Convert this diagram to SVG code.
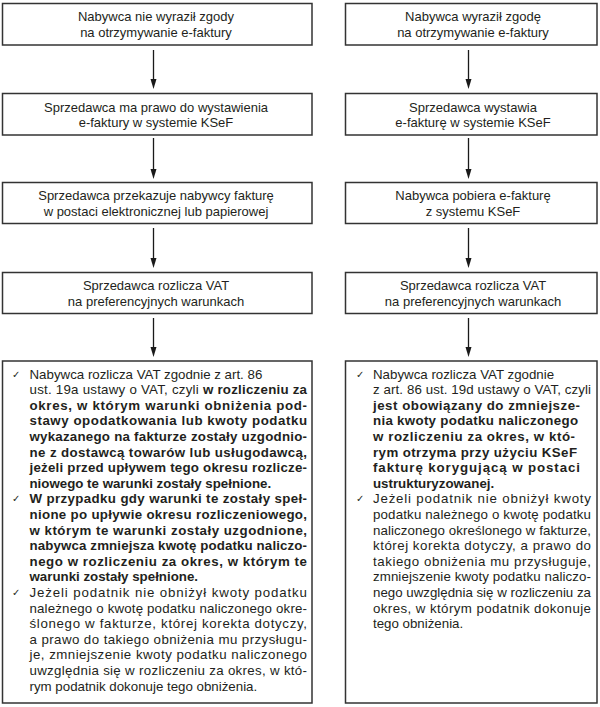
<svg xmlns="http://www.w3.org/2000/svg" width="600" height="707" viewBox="0 0 600 707">
<defs>
<style>
.box{fill:#fff;stroke:#333;stroke-width:1.5}
.t{font-family:"Liberation Sans",Arial,sans-serif;font-size:13px;fill:#231f20}
.c{text-anchor:middle}
.b{font-family:"Liberation Sans",Arial,sans-serif;font-size:13.3px;fill:#231f20}
.bd{font-weight:bold}
.ck{font-family:"DejaVu Sans",sans-serif;font-size:10px;fill:#231f20}
.ln{stroke:#1a1a1a;stroke-width:1.3;fill:none}
.hd{fill:#1a1a1a}
</style>
</defs>
<rect width="600" height="707" fill="#fff"/>
<g id="connectors">
<line class="ln" x1="153.5" y1="50" x2="153.5" y2="80"/><path class="hd" d="M150.5,79 L156.5,79 L153.5,89 Z"/>
<line class="ln" x1="153.5" y1="138" x2="153.5" y2="170"/><path class="hd" d="M150.5,169 L156.5,169 L153.5,179 Z"/>
<line class="ln" x1="153.5" y1="228" x2="153.5" y2="259"/><path class="hd" d="M150.5,258 L156.5,258 L153.5,268 Z"/>
<line class="ln" x1="153.5" y1="318" x2="153.5" y2="348"/><path class="hd" d="M150.5,347 L156.5,347 L153.5,357 Z"/>
<line class="ln" x1="468.5" y1="50" x2="468.5" y2="80"/><path class="hd" d="M465.5,79 L471.5,79 L468.5,89 Z"/>
<line class="ln" x1="468.5" y1="138" x2="468.5" y2="170"/><path class="hd" d="M465.5,169 L471.5,169 L468.5,179 Z"/>
<line class="ln" x1="468.5" y1="228" x2="468.5" y2="259"/><path class="hd" d="M465.5,258 L471.5,258 L468.5,268 Z"/>
<line class="ln" x1="468.5" y1="318" x2="468.5" y2="348"/><path class="hd" d="M465.5,347 L471.5,347 L468.5,357 Z"/>
</g>
<g id="l1"><rect class="box" x="2.5" y="3.5" width="309.5" height="41.5"/>
<text class="t c" x="156" y="21">Nabywca nie wyraził zgody</text><text class="t c" x="156" y="36.5">na otrzymywanie e-faktury</text></g>
<g id="l2"><rect class="box" x="2.5" y="93.5" width="309.5" height="41.5"/>
<text class="t c" x="156" y="111.5">Sprzedawca ma prawo do wystawienia</text><text class="t c" x="156" y="127">e-faktury w systemie KSeF</text></g>
<g id="l3"><rect class="box" x="2.5" y="182.5" width="309.5" height="41"/>
<text class="t c" x="156" y="200">Sprzedawca przekazuje nabywcy fakturę</text><text class="t c" x="156" y="215.5">w postaci elektronicznej lub papierowej</text></g>
<g id="l4"><rect class="box" x="2.5" y="272.5" width="309.5" height="41"/>
<text class="t c" x="156" y="290">Sprzedawca rozlicza VAT</text><text class="t c" x="156" y="305.5">na preferencyjnych warunkach</text></g>
<g id="r1"><rect class="box" x="345.5" y="3.5" width="251.5" height="41.5"/>
<text class="t c" x="473" y="21">Nabywca wyraził zgodę</text><text class="t c" x="473" y="36.5">na otrzymywanie e-faktury</text></g>
<g id="r2"><rect class="box" x="345.5" y="93.5" width="251.5" height="41.5"/>
<text class="t c" x="473" y="111.5">Sprzedawca wystawia</text><text class="t c" x="473" y="127">e-fakturę w systemie KSeF</text></g>
<g id="r3"><rect class="box" x="345.5" y="182.5" width="251.5" height="41"/>
<text class="t c" x="473" y="200">Nabywca pobiera e-fakturę</text><text class="t c" x="473" y="215.5">z systemu KSeF</text></g>
<g id="r4"><rect class="box" x="345.5" y="272.5" width="251.5" height="41"/>
<text class="t c" x="473" y="290">Sprzedawca rozlicza VAT</text><text class="t c" x="473" y="305.5">na preferencyjnych warunkach</text></g>
<g id="l5"><rect class="box" x="2.5" y="361" width="309.5" height="342"/>
<text class="ck" x="12" y="377.5">✓</text>
<text class="ck" x="12" y="502.3">✓</text>
<text class="ck" x="12" y="596">✓</text>
<text class="b" x="29.5" y="378.5">Nabywca rozlicza VAT zgodnie z art. 86</text>
<text class="b" x="29.5" y="394.1" textLength="277.5" lengthAdjust="spacing">ust. 19a ustawy o VAT, czyli <tspan class="bd">w rozliczeniu za</tspan></text>
<text class="b bd" x="29.5" y="409.7" textLength="277.5" lengthAdjust="spacing">okres, w którym warunki obniżenia pod-</text>
<text class="b bd" x="29.5" y="425.3" textLength="277.5" lengthAdjust="spacing">stawy opodatkowania lub kwoty podatku</text>
<text class="b bd" x="29.5" y="440.9" textLength="277.5" lengthAdjust="spacing">wykazanego na fakturze zostały uzgodnio-</text>
<text class="b bd" x="29.5" y="456.5" textLength="277.5" lengthAdjust="spacing">ne z dostawcą towarów lub usługodawcą,</text>
<text class="b bd" x="29.5" y="472.1" textLength="277.5" lengthAdjust="spacing">jeżeli przed upływem tego okresu rozlicze-</text>
<text class="b bd" x="29.5" y="487.7">niowego te warunki zostały spełnione.</text>
<text class="b bd" x="29.5" y="503.3" textLength="277.5" lengthAdjust="spacing">W przypadku gdy warunki te zostały speł-</text>
<text class="b bd" x="29.5" y="518.9" textLength="277.5" lengthAdjust="spacing">nione po upływie okresu rozliczeniowego,</text>
<text class="b bd" x="29.5" y="534.5" textLength="277.5" lengthAdjust="spacing">w którym te warunki zostały uzgodnione,</text>
<text class="b bd" x="29.5" y="550.1" textLength="277.5" lengthAdjust="spacing">nabywca zmniejsza kwotę podatku naliczo-</text>
<text class="b bd" x="29.5" y="565.7" textLength="277.5" lengthAdjust="spacing">nego w rozliczeniu za okres, w którym te</text>
<text class="b bd" x="29.5" y="581.3">warunki zostały spełnione.</text>
<text class="b" x="29.5" y="596.9" textLength="277.5" lengthAdjust="spacing">Jeżeli podatnik nie obniżył kwoty podatku</text>
<text class="b" x="29.5" y="612.5" textLength="277.5" lengthAdjust="spacing">należnego o kwotę podatku naliczonego okre-</text>
<text class="b" x="29.5" y="628.1" textLength="277.5" lengthAdjust="spacing">ślonego w fakturze, której korekta dotyczy,</text>
<text class="b" x="29.5" y="643.7" textLength="277.5" lengthAdjust="spacing">a prawo do takiego obniżenia mu przysługu-</text>
<text class="b" x="29.5" y="659.3" textLength="277.5" lengthAdjust="spacing">je, zmniejszenie kwoty podatku naliczonego</text>
<text class="b" x="29.5" y="674.9" textLength="277.5" lengthAdjust="spacing">uwzględnia się w rozliczeniu za okres, w któ-</text>
<text class="b" x="29.5" y="690.5">rym podatnik dokonuje tego obniżenia.</text>
</g>
<g id="r5"><rect class="box" x="345.5" y="361" width="251.5" height="342"/>
<text class="ck" x="356" y="377.5">✓</text>
<text class="ck" x="356" y="502.3">✓</text>
<text class="b" x="373" y="378.5">Nabywca rozlicza VAT zgodnie</text>
<text class="b" x="373" y="394.1" textLength="218" lengthAdjust="spacing">z art. 86 ust. 19d ustawy o VAT, czyli</text>
<text class="b bd" x="373" y="409.7" textLength="207" lengthAdjust="spacing">jest obowiązany do zmniejsze-</text>
<text class="b bd" x="373" y="425.3" textLength="205" lengthAdjust="spacing">nia kwoty podatku naliczonego</text>
<text class="b bd" x="373" y="440.9" textLength="202" lengthAdjust="spacing">w rozliczeniu za okres, w któ-</text>
<text class="b bd" x="373" y="456.5" textLength="204" lengthAdjust="spacing">rym otrzyma przy użyciu KSeF</text>
<text class="b bd" x="373" y="472.1" textLength="207" lengthAdjust="spacing">fakturę korygującą w postaci</text>
<text class="b bd" x="373" y="487.7">ustrukturyzowanej.</text>
<text class="b" x="373" y="503.3" textLength="218" lengthAdjust="spacing">Jeżeli podatnik nie obniżył kwoty</text>
<text class="b" x="373" y="518.9" textLength="218" lengthAdjust="spacing">podatku należnego o kwotę podatku</text>
<text class="b" x="373" y="534.5" textLength="218" lengthAdjust="spacing">naliczonego określonego w fakturze,</text>
<text class="b" x="373" y="550.1" textLength="218" lengthAdjust="spacing">której korekta dotyczy, a prawo do</text>
<text class="b" x="373" y="565.7" textLength="218" lengthAdjust="spacing">takiego obniżenia mu przysługuje,</text>
<text class="b" x="373" y="581.3" textLength="218" lengthAdjust="spacing">zmniejszenie kwoty podatku naliczo-</text>
<text class="b" x="373" y="596.9" textLength="218" lengthAdjust="spacing">nego uwzględnia się w rozliczeniu za</text>
<text class="b" x="373" y="612.5" textLength="218" lengthAdjust="spacing">okres, w którym podatnik dokonuje</text>
<text class="b" x="373" y="628.1">tego obniżenia.</text>
</g>
</svg>
